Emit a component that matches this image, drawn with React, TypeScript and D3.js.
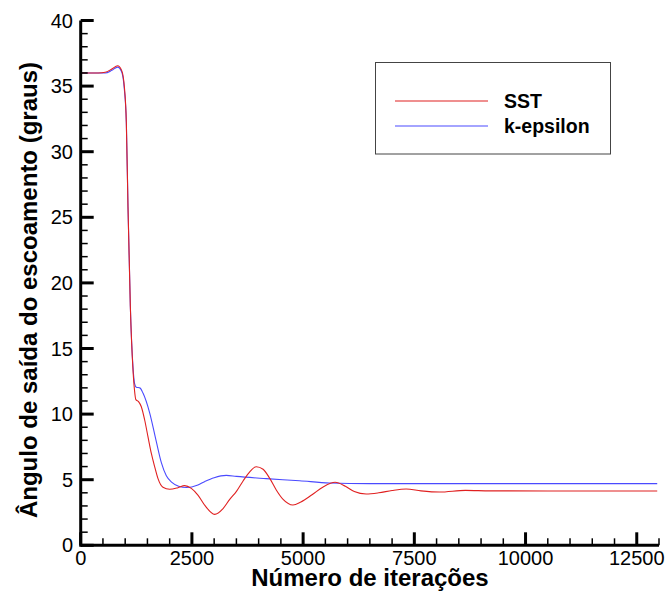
import React from "react";
import * as d3 from "d3";

const sstIter = [0, 400, 550, 700, 830, 920, 980, 1026, 1063, 1116, 1175, 1210, 1240, 1300, 1363, 1438, 1512, 1588, 1662, 1736, 1849, 1999, 2186, 2336, 2487, 2635, 2800, 3010, 3200, 3350, 3497, 3650, 3800, 3946, 4100, 4250, 4400, 4550, 4770, 4950, 5200, 5450, 5720, 5950, 6150, 6417, 6700, 7000, 7316, 7650, 8064, 8650, 9200, 10500, 12960];
const sstVal = [36, 36, 36.05, 36.3, 36.55, 36.2, 35, 32.2, 25.8, 18.2, 13.4, 11.8, 11.1, 10.95, 10.56, 9.55, 8.28, 7.0, 6.0, 5.1, 4.42, 4.27, 4.39, 4.55, 4.34, 3.83, 3.0, 2.36, 2.8, 3.5, 4.09, 4.9, 5.6, 5.99, 5.8, 5.1, 4.2, 3.5, 3.07, 3.3, 3.85, 4.45, 4.8, 4.5, 4.1, 3.91, 4.0, 4.18, 4.29, 4.15, 4.06, 4.19, 4.15, 4.14, 4.14];

const keIter = [0, 400, 550, 700, 830, 920, 980, 1026, 1063, 1116, 1175, 1213, 1250, 1330, 1400, 1550, 1700, 1813, 1925, 2050, 2200, 2380, 2635, 2785, 3000, 3272, 3500, 4170, 4920, 5590, 6500, 8000, 12960];
const keVal = [36, 36, 36.0, 36.2, 36.45, 36.1, 34.8, 32.2, 25.8, 18.2, 13.6, 12.3, 12.05, 12.0, 11.6, 10.1, 7.9, 6.3, 5.3, 4.8, 4.5, 4.4, 4.6, 4.85, 5.15, 5.33, 5.25, 5.08, 4.92, 4.75, 4.7, 4.7, 4.7];

const xMajorTicks = [0, 2500, 5000, 7500, 10000, 12500];
const yMajorTicks = [0, 5, 10, 15, 20, 25, 30, 35, 40];
const seriesNames = ["SST", "k-epsilon"];
const seriesColors = ["#e02020", "#4a4aff"];
const xTitle = "Número de iterações";
const yTitle = "Ângulo de saída do escoamento (graus)";

export default function App() {
  const x = d3.scaleLinear().domain([0, 13000]).range([80.7, 659]);
  const y = d3.scaleLinear().domain([0, 40]).range([545.3, 20.5]);
  const line = d3
    .line<[number, number]>()
    .x((d) => x(d[0]))
    .y((d) => y(d[1]))
    .curve(d3.curveMonotoneX);
  const sst = sstIter.map((v, i) => [v, sstVal[i]] as [number, number]);
  const ke = keIter.map((v, i) => [v, keVal[i]] as [number, number]);
  const xMinor = d3.range(0, 13001, 500).filter((v) => v % 2500 !== 0);
  const yMinor = d3.range(0, 41, 1).filter((v) => v % 5 !== 0);
  const font = "Liberation Sans, Arial, Helvetica, sans-serif";
  const x0 = x(0);
  const y0 = y(0);
  return (
    <svg
      width={667}
      height={592}
      style={{ position: "absolute", left: 0, top: 0, background: "#fff" }}
      fontFamily={font}
    >
      <rect x={0} y={0} width={667} height={592} fill="#fff" />
      <path d={line(ke) || ""} fill="none" stroke={seriesColors[1]} strokeWidth={1.1} />
      <path d={line(sst) || ""} fill="none" stroke={seriesColors[0]} strokeWidth={1.1} />
      {/* axes */}
      <line x1={x0} y1={y0} x2={x(13000)} y2={y0} stroke="#000" strokeWidth={3} />
      <line x1={x0} y1={y0 + 1.5} x2={x0} y2={y(40)} stroke="#000" strokeWidth={3} />
      {xMajorTicks.map((t) => (
        <g key={"xm" + t}>
          <line x1={x(t)} x2={x(t)} y1={y0} y2={y0 - 13} stroke="#000" strokeWidth={3} />
          <text x={x(t)} y={565} textAnchor="middle" fontSize={20}>
            {t}
          </text>
        </g>
      ))}
      {xMinor.map((t) => (
        <line key={"xn" + t} x1={x(t)} x2={x(t)} y1={y0} y2={y0 - 7} stroke="#000" strokeWidth={1.5} />
      ))}
      {yMajorTicks.map((t) => (
        <g key={"ym" + t}>
          <line x1={x0} x2={x0 + 13} y1={y(t)} y2={y(t)} stroke="#000" strokeWidth={3} />
          <text x={73} y={y(t) + 7} textAnchor="end" fontSize={20}>
            {t}
          </text>
        </g>
      ))}
      {yMinor.map((t) => (
        <line key={"yn" + t} x1={x0} x2={x0 + 7} y1={y(t)} y2={y(t)} stroke="#000" strokeWidth={1.5} />
      ))}
      <text x={370} y={586} textAnchor="middle" fontSize={24} fontWeight="bold">
        {xTitle}
      </text>
      <text
        transform={`translate(37,290) rotate(-90)`}
        textAnchor="middle"
        fontSize={24}
        fontWeight="bold"
      >
        {yTitle}
      </text>
      {/* legend */}
      <rect x={375.5} y={62.5} width={235} height={91.5} fill="#fff" stroke="#444" strokeWidth={1} />
      {seriesNames.map((n, i) => (
        <g key={n}>
          <line x1={395} x2={488} y1={101 + i * 25} y2={101 + i * 25} stroke={seriesColors[i]} strokeWidth={1.1} />
          <text x={504} y={107.5 + i * 25} fontSize={19.5} fontWeight="bold">
            {n}
          </text>
        </g>
      ))}
    </svg>
  );
}
